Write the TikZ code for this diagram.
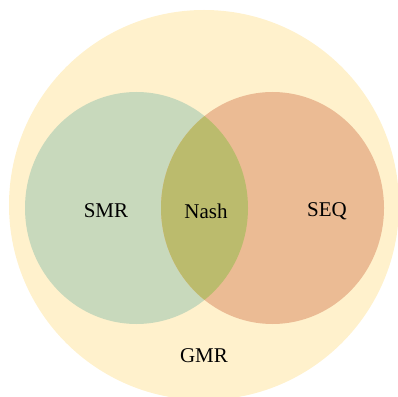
\documentclass[tikz,border=0pt]{standalone}
\usepackage{fontspec}
\setmainfont{Liberation Serif}
\definecolor{gmrfill}{HTML}{FFF1CC}
\definecolor{smrfill}{HTML}{C8D9BC}
\definecolor{seqfill}{HTML}{EBBB94}
\definecolor{nashfill}{HTML}{BBBB6D}
\tikzset{lbl/.style={font=\fontsize{21}{25}\selectfont, text=black, inner sep=0pt}}
\begin{document}
\begin{tikzpicture}[x=1pt,y=1pt]
\useasboundingbox (0,0) rectangle (398,396);
\begin{scope}
\clip (0,0) rectangle (398,396);
\fill[gmrfill] (204,191) circle (195);
\end{scope}
\fill[smrfill] (136.5,188) ellipse [x radius=111.5, y radius=116];
\fill[seqfill] (272.5,188) ellipse [x radius=111.5, y radius=116];
\begin{scope}
\clip (136.5,188) ellipse [x radius=111.5, y radius=116];
\fill[nashfill] (272.5,188) ellipse [x radius=111.5, y radius=116];
\end{scope}
\node[lbl] (smr) at (106,185) {SMR};
\node[lbl] (nash) at (206,185) {Nash};
\node[lbl] (seq) at (327,185) {SEQ};
\node[lbl] (gmr) at (204,40) {GMR};
\end{tikzpicture}
\end{document}
